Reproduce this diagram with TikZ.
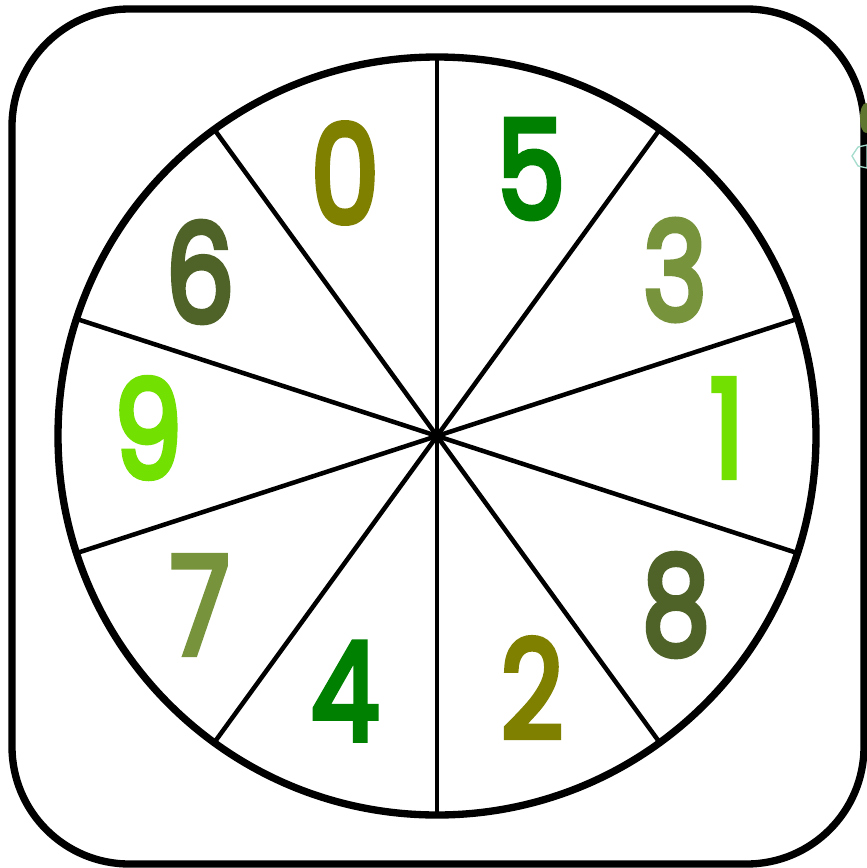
\documentclass[tikz,border=0pt]{standalone}
\usepackage{fontspec}
\setmainfont{Poppins}
\newfontfamily\digitfont[FakeBold=4.5]{Poppins}
\definecolor{cgreen}{RGB}{0,128,0}
\definecolor{colive}{RGB}{128,128,0}
\definecolor{cmoss}{RGB}{119,147,60}
\definecolor{clime}{RGB}{114,224,0}
\definecolor{cdark}{RGB}{79,98,40}
\definecolor{cteal}{RGB}{165,220,205}
\begin{document}
\begin{tikzpicture}[x=0.75pt,y=-0.75pt,
  digit/.style={font=\digitfont\fontsize{102}{102}\selectfont, inner sep=0pt, anchor=center, xscale=0.8},
  frame/.style={line width=5.5pt, rounded corners=88pt},
  rim/.style={line width=5.5pt},
  spoke/.style={line width=3.4pt}]
\useasboundingbox (0,0) rectangle (867,868);
\fill[white] (0,0) rectangle (867,868);
\draw[frame] (12,9) rectangle (864,864);
\coordinate (o) at (437,436);
\foreach \a in {18,54,90,126,162,198,234,270,306,342}
  \draw[spoke] (o) -- ++(\a:380);
\draw[rim] (o) circle (379);
\node[digit, text=colive] (d0) at (345,173) {0};
\node[digit, text=cgreen] (d5) at (531,169) {5};
\node[digit, text=cmoss] (d3) at (675,270) {3};
\node[digit, text=clime] (d1) at (727,428) {1};
\node[digit, text=cdark] (d8) at (676,605) {8};
\node[digit, text=colive] (d2) at (532,688) {2};
\node[digit, text=cgreen] (d4) at (345,691) {4};
\node[digit, text=cmoss] (d7) at (200,605) {7};
\node[digit, text=clime] (d9) at (148,428) {9};
\node[digit, text=cdark] (d6) at (200,272) {6};
% small artefact at the top right
\fill[cmoss!80!black] (866,118) ellipse (6 and 15);
\draw[cteal, line width=1pt] (852,156) -- (858,147) -- (867,145) -- (867,168) -- (858,166) -- cycle;
\end{tikzpicture}
\end{document}
